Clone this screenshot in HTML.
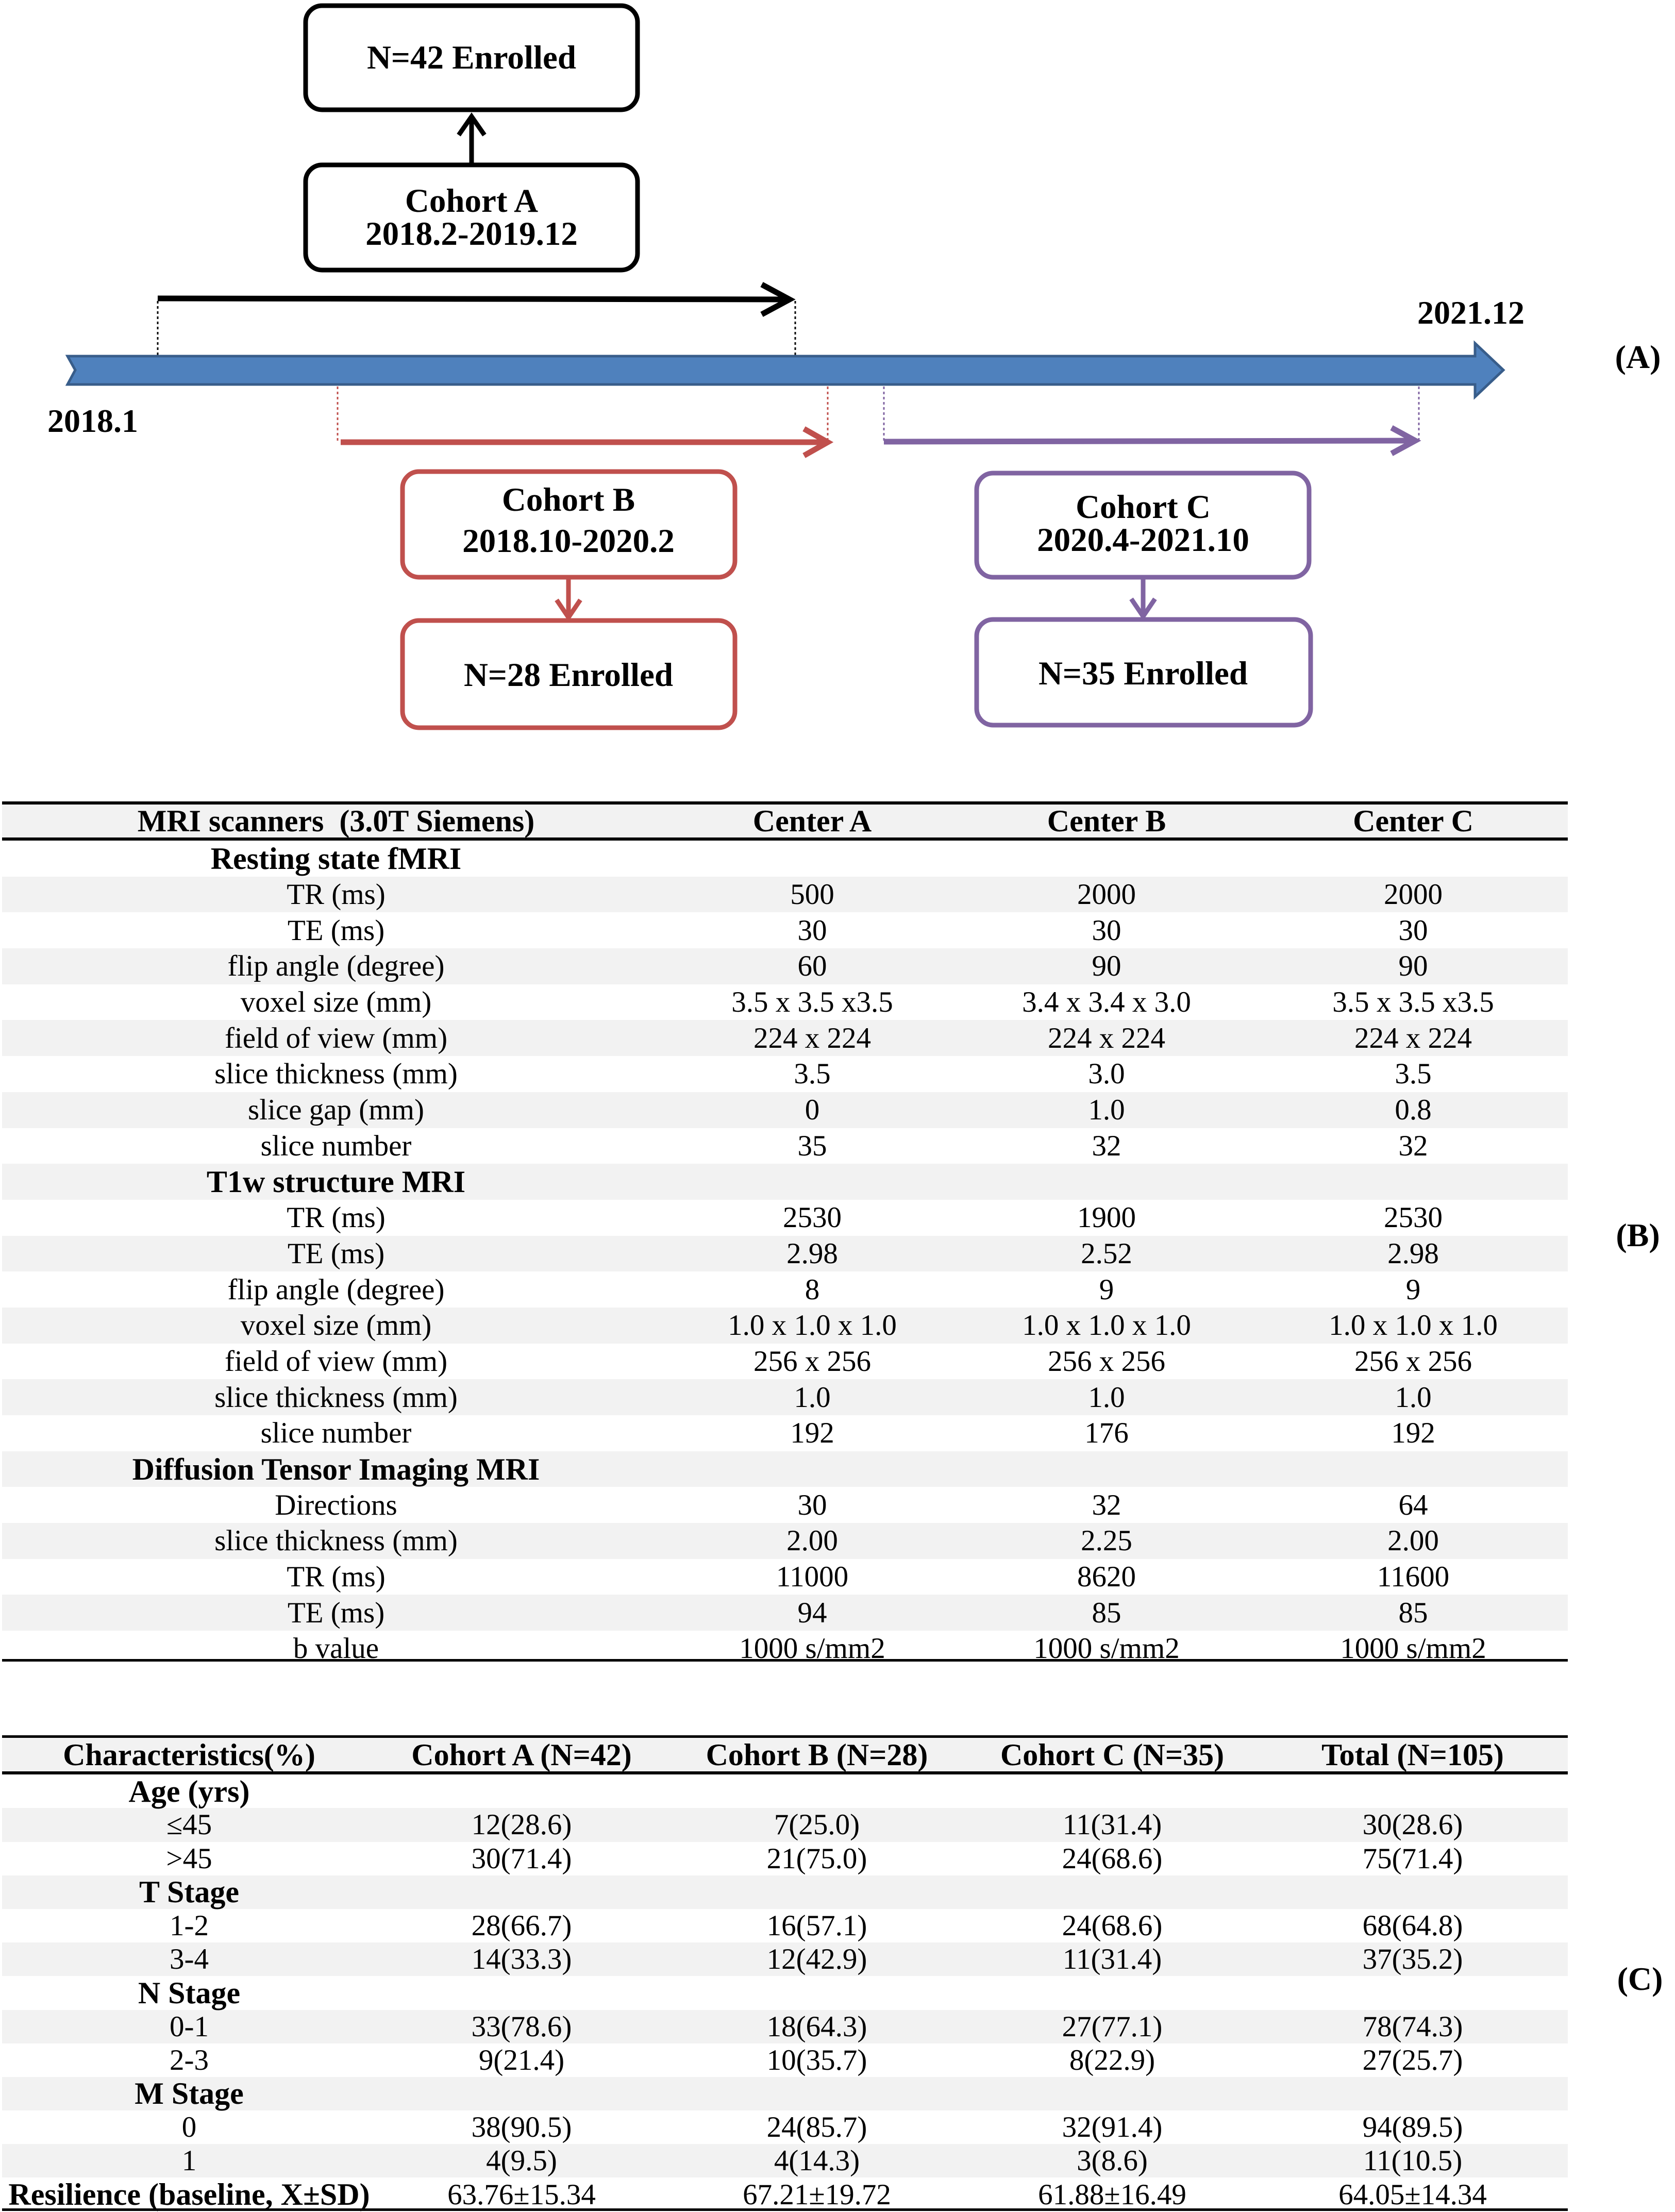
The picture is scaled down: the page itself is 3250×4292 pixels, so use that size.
<!DOCTYPE html>
<html><head><meta charset="utf-8"><style>
body{margin:0;background:#fff;}
#page{position:relative;width:3250px;height:4292px;overflow:hidden;font-family:"Liberation Serif",serif;color:#000;}
svg text{font-family:"Liberation Serif",serif;font-weight:bold;}
table{position:absolute;left:4px;border-collapse:collapse;table-layout:fixed;font-size:57px;line-height:1;}
td{text-align:center;padding:0;white-space:nowrap;overflow:visible;}
.b td{height:69.7px;}
.c td{height:65.2px;}
tr.s{background:#f2f2f2;}
tr.h td{font-weight:bold;font-size:60px;}
td.sec{font-weight:bold;font-size:60px;}
.line{position:absolute;left:4px;background:#000;}
.lab{position:absolute;font-weight:bold;font-size:64px;transform:translate(-50%,-50%);}
</style></head><body>
<div id="page">
<svg width="3250" height="1500" style="position:absolute;left:0;top:0">
 <g><rect x="593" y="11" width="644" height="202" rx="32" fill="#fff" stroke="#000" stroke-width="9"/><text x="915" y="133" font-size="65" text-anchor="middle">N=42 Enrolled</text></g>
 <g><rect x="593" y="320" width="644" height="204" rx="32" fill="#fff" stroke="#000" stroke-width="9"/><text x="915" y="411" font-size="65" text-anchor="middle">Cohort A</text><text x="915" y="475" font-size="65" text-anchor="middle">2018.2-2019.12</text></g>
 <g><line x1="915" y1="318" x2="915" y2="228" stroke="#000" stroke-width="9"/><path d="M890,262 L915,226 L940,262" fill="none" stroke="#000" stroke-width="9"/></g>
 <g><line x1="306" y1="579" x2="1520" y2="581" stroke="#000" stroke-width="11"/><path d="M1478,552 L1532,581 L1478,610" fill="none" stroke="#000" stroke-width="11"/>
 <line x1="306" y1="584" x2="306" y2="692" stroke="#000" stroke-width="3" stroke-dasharray="5,5"/><line x1="1543" y1="584" x2="1543" y2="692" stroke="#000" stroke-width="3" stroke-dasharray="5,5"/></g>
 <g><path d="M131,691 L2862,691 L2862,666 L2917,718 L2862,770 L2862,746 L131,746 L146,718 Z" fill="#4f81bd" stroke="#385d8a" stroke-width="5"/></g>
 <text x="2854" y="628" font-size="64" text-anchor="middle">2021.12</text>
 <text x="180" y="838" font-size="64" text-anchor="middle">2018.1</text>
 <g><line x1="655" y1="750" x2="655" y2="858" stroke="#c0504d" stroke-width="3" stroke-dasharray="5,5"/><line x1="1606" y1="750" x2="1606" y2="858" stroke="#c0504d" stroke-width="3" stroke-dasharray="5,5"/>
 <line x1="661" y1="858" x2="1600" y2="858" stroke="#c0504d" stroke-width="11"/><path d="M1560,832 L1606,858 L1560,884" fill="none" stroke="#c0504d" stroke-width="11"/></g>
 <g><line x1="1715" y1="750" x2="1715" y2="855" stroke="#8064a2" stroke-width="3" stroke-dasharray="5,5"/><line x1="2753" y1="750" x2="2753" y2="855" stroke="#8064a2" stroke-width="3" stroke-dasharray="5,5"/>
 <line x1="1715" y1="857" x2="2740" y2="855" stroke="#8064a2" stroke-width="11"/><path d="M2700,830 L2746,855 L2700,880" fill="none" stroke="#8064a2" stroke-width="11"/></g>
 <g><rect x="781" y="915" width="645" height="205" rx="32" fill="#fff" stroke="#c0504d" stroke-width="9"/><text x="1103" y="991" font-size="65" text-anchor="middle">Cohort B</text><text x="1103" y="1071" font-size="65" text-anchor="middle">2018.10-2020.2</text></g>
 <g><line x1="1103" y1="1122" x2="1103" y2="1196" stroke="#c0504d" stroke-width="9"/><path d="M1080,1164 L1103,1198 L1126,1164" fill="none" stroke="#c0504d" stroke-width="9"/></g>
 <g><rect x="781" y="1204" width="645" height="208" rx="32" fill="#fff" stroke="#c0504d" stroke-width="9"/><text x="1103" y="1331" font-size="65" text-anchor="middle">N=28 Enrolled</text></g>
 <g><rect x="1895" y="918" width="645" height="202" rx="32" fill="#fff" stroke="#8064a2" stroke-width="9"/><text x="2218" y="1005" font-size="65" text-anchor="middle">Cohort C</text><text x="2218" y="1069" font-size="65" text-anchor="middle">2020.4-2021.10</text></g>
 <g><line x1="2218" y1="1122" x2="2218" y2="1194" stroke="#8064a2" stroke-width="9"/><path d="M2195,1162 L2218,1196 L2241,1162" fill="none" stroke="#8064a2" stroke-width="9"/></g>
 <g><rect x="1895" y="1202" width="648" height="205" rx="32" fill="#fff" stroke="#8064a2" stroke-width="9"/><text x="2218" y="1328" font-size="65" text-anchor="middle">N=35 Enrolled</text></g>
</svg>
<div class="lab" style="left:3178px;top:693px">(A)</div>
<div class="lab" style="left:3178px;top:2397px">(B)</div>
<div class="lab" style="left:3182px;top:3840px">(C)</div>

<div class="line" style="top:1555px;width:3038px;height:6px"></div>
<table class="b" style="top:1561px;width:3038px">
<colgroup><col style="width:1296px"><col style="width:552px"><col style="width:590px"><col style="width:600px"></colgroup>
<tr class="h s"><td style="height:64px">MRI scanners&nbsp; (3.0T Siemens)</td><td style="height:64px">Center A</td><td style="height:64px">Center B</td><td style="height:64px">Center C</td></tr>
<tr style="border-top:6px solid #000"><td class="sec">Resting state fMRI</td><td></td><td></td><td></td></tr>
<tr class="s"><td>TR (ms)</td><td>500</td><td>2000</td><td>2000</td></tr>
<tr><td>TE (ms)</td><td>30</td><td>30</td><td>30</td></tr>
<tr class="s"><td>flip angle (degree)</td><td>60</td><td>90</td><td>90</td></tr>
<tr><td>voxel size (mm)</td><td>3.5 x 3.5 x3.5</td><td>3.4 x 3.4 x 3.0</td><td>3.5 x 3.5 x3.5</td></tr>
<tr class="s"><td>field of view (mm)</td><td>224 x 224</td><td>224 x 224</td><td>224 x 224</td></tr>
<tr><td>slice thickness (mm)</td><td>3.5</td><td>3.0</td><td>3.5</td></tr>
<tr class="s"><td>slice gap (mm)</td><td>0</td><td>1.0</td><td>0.8</td></tr>
<tr><td>slice number</td><td>35</td><td>32</td><td>32</td></tr>
<tr class="s"><td class="sec">T1w structure MRI</td><td></td><td></td><td></td></tr>
<tr><td>TR (ms)</td><td>2530</td><td>1900</td><td>2530</td></tr>
<tr class="s"><td>TE (ms)</td><td>2.98</td><td>2.52</td><td>2.98</td></tr>
<tr><td>flip angle (degree)</td><td>8</td><td>9</td><td>9</td></tr>
<tr class="s"><td>voxel size (mm)</td><td>1.0 x 1.0 x 1.0</td><td>1.0 x 1.0 x 1.0</td><td>1.0 x 1.0 x 1.0</td></tr>
<tr><td>field of view (mm)</td><td>256 x 256</td><td>256 x 256</td><td>256 x 256</td></tr>
<tr class="s"><td>slice thickness (mm)</td><td>1.0</td><td>1.0</td><td>1.0</td></tr>
<tr><td>slice number</td><td>192</td><td>176</td><td>192</td></tr>
<tr class="s"><td class="sec">Diffusion Tensor Imaging MRI</td><td></td><td></td><td></td></tr>
<tr><td>Directions</td><td>30</td><td>32</td><td>64</td></tr>
<tr class="s"><td>slice thickness (mm)</td><td>2.00</td><td>2.25</td><td>2.00</td></tr>
<tr><td>TR (ms)</td><td>11000</td><td>8620</td><td>11600</td></tr>
<tr class="s"><td>TE (ms)</td><td>94</td><td>85</td><td>85</td></tr>
<tr><td>b value</td><td>1000 s/mm2</td><td>1000 s/mm2</td><td>1000 s/mm2</td></tr>
</table>
<div class="line" style="top:3219px;width:3038px;height:5px"></div>

<div class="line" style="top:3367px;width:3038px;height:5px"></div>
<table class="c" style="top:3372px;width:3038px">
<colgroup><col style="width:726px"><col style="width:564px"><col style="width:582px"><col style="width:564px"><col style="width:602px"></colgroup>
<tr class="h s"><td>Characteristics(%)</td><td>Cohort A (N=42)</td><td>Cohort B (N=28)</td><td>Cohort C (N=35)</td><td>Total (N=105)</td></tr>
<tr style="border-top:6px solid #000"><td class="sec">Age (yrs)</td><td></td><td></td><td></td><td></td></tr>
<tr class="s"><td>≤45</td><td>12(28.6)</td><td>7(25.0)</td><td>11(31.4)</td><td>30(28.6)</td></tr>
<tr><td>&gt;45</td><td>30(71.4)</td><td>21(75.0)</td><td>24(68.6)</td><td>75(71.4)</td></tr>
<tr class="s"><td class="sec">T Stage</td><td></td><td></td><td></td><td></td></tr>
<tr><td>1-2</td><td>28(66.7)</td><td>16(57.1)</td><td>24(68.6)</td><td>68(64.8)</td></tr>
<tr class="s"><td>3-4</td><td>14(33.3)</td><td>12(42.9)</td><td>11(31.4)</td><td>37(35.2)</td></tr>
<tr><td class="sec">N Stage</td><td></td><td></td><td></td><td></td></tr>
<tr class="s"><td>0-1</td><td>33(78.6)</td><td>18(64.3)</td><td>27(77.1)</td><td>78(74.3)</td></tr>
<tr><td>2-3</td><td>9(21.4)</td><td>10(35.7)</td><td>8(22.9)</td><td>27(25.7)</td></tr>
<tr class="s"><td class="sec">M Stage</td><td></td><td></td><td></td><td></td></tr>
<tr><td>0</td><td>38(90.5)</td><td>24(85.7)</td><td>32(91.4)</td><td>94(89.5)</td></tr>
<tr class="s"><td>1</td><td>4(9.5)</td><td>4(14.3)</td><td>3(8.6)</td><td>11(10.5)</td></tr>
<tr><td class="sec">Resilience (baseline, X±SD)</td><td>63.76±15.34</td><td>67.21±19.72</td><td>61.88±16.49</td><td>64.05±14.34</td></tr>
</table>
<div class="line" style="top:4285px;width:3038px;height:5px"></div>
</div>
</body></html>
